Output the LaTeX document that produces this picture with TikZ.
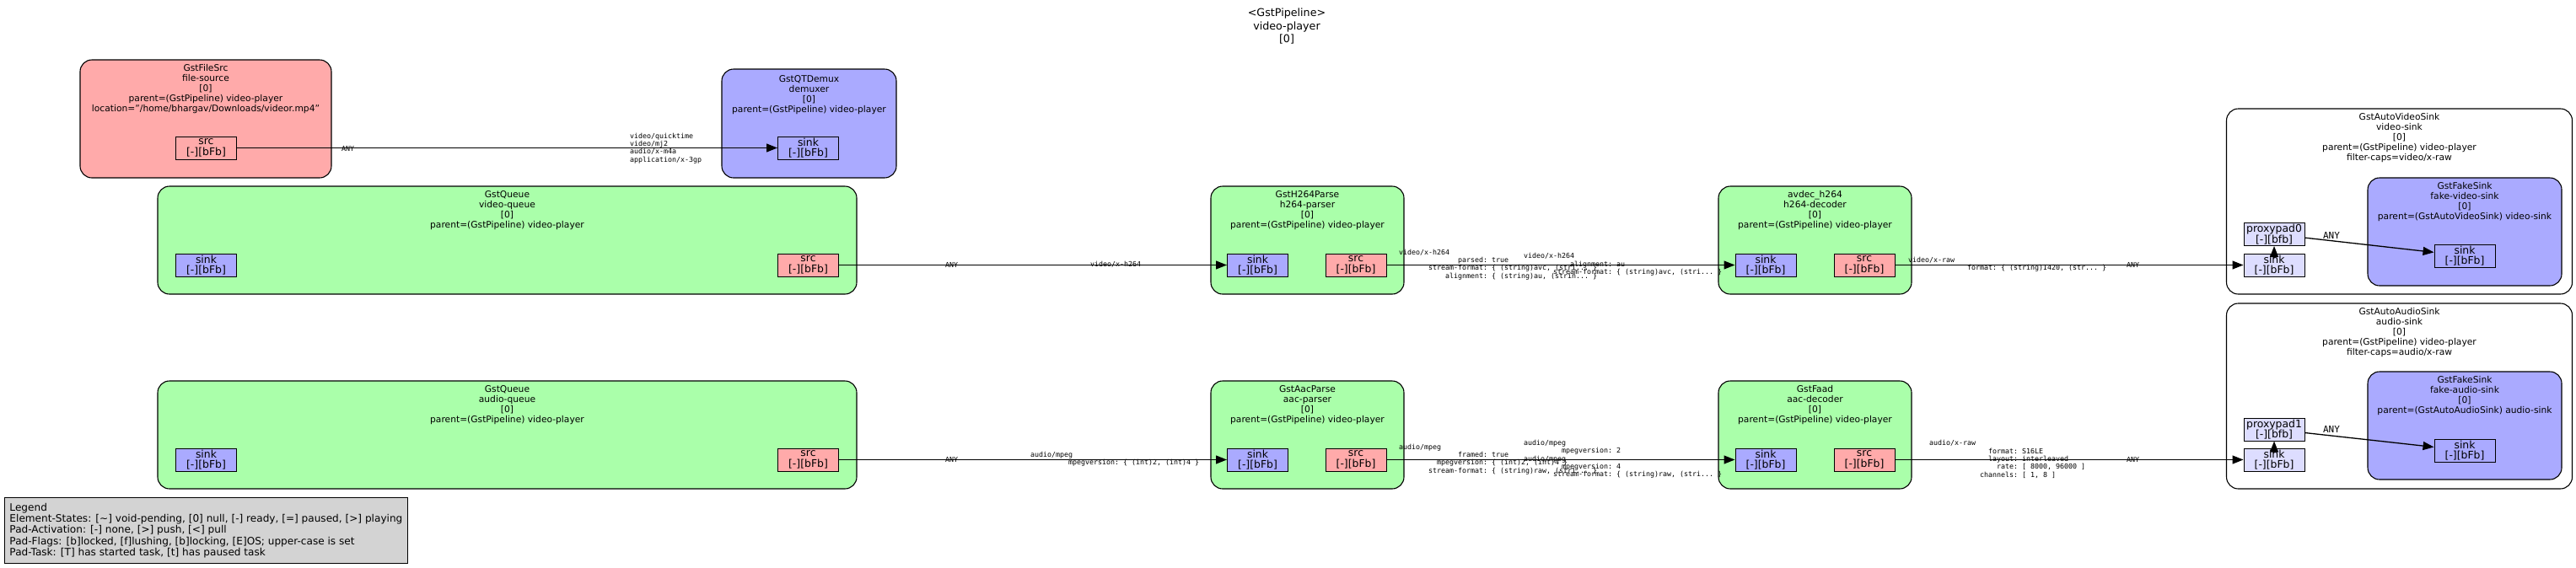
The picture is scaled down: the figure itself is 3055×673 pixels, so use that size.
\documentclass[tikz,border=0pt]{standalone}
\usepackage{fontspec}
\setmainfont{DejaVu Sans}
\setmonofont{DejaVu Sans Mono}
\usetikzlibrary{arrows.meta}
\definecolor{srcfill}{HTML}{FFAAAA}
\definecolor{sinkfill}{HTML}{AAAAFF}
\definecolor{filterfill}{HTML}{AAFFAA}
\definecolor{ghostfill}{HTML}{DDDDFF}
\definecolor{legendfill}{HTML}{D3D3D3}
\newlength\capw
\setlength\capw{4.997pt}
\newcommand\ind[1]{\hspace*{#1\capw}}
\newcommand\padlbl[2]{#1\\{}[-][#2]}

\begin{document}
\begin{tikzpicture}[x=1pt,y=-1pt,
			elem/.style={draw,rounded corners=14pt,line width=1.1pt,inner sep=0pt},
			eltext/.style={anchor=north,yshift=-5.8pt,align=center,inner sep=0pt,font=\fontsize{10.7}{12}\selectfont},
			padbox/.style={draw,line width=1pt,minimum width=72pt,minimum height=27pt,inner sep=0pt,align=center,font=\fontsize{12.4}{12.5}\selectfont},
			capl/.style={anchor=west,align=left,inner sep=0pt,font=\ttfamily\fontsize{8.3}{9.3}\selectfont},
			link/.style={line width=1.3pt,-{Triangle[length=13pt,width=10pt]}}]
			\tikzstyle{anylbl}=[inner sep=0pt,font=\ttfamily\fontsize{11}{13}\selectfont]
			\useasboundingbox (0,0) rectangle (3055,673);
			\node[align=center,inner sep=0pt,font=\fontsize{12.7}{15.5}\selectfont] (title) at (1526,31.5) {<GstPipeline>\\video-player\\{}[0]};

			\node[elem,fill=srcfill,minimum width=298pt,minimum height=140pt] (fsrc) at (244,141) {};
			\node[eltext] at (fsrc.north) {GstFileSrc\\file-source\\{}[0]\\parent=(GstPipeline) video-player\\location="/home/bhargav/Downloads/videor.mp4"};
			\node[padbox,fill=srcfill] (fsrc-src) at (244.5,175.5) {\padlbl{src}{bFb}};

			\node[elem,fill=sinkfill,minimum width=207pt,minimum height=129pt] (demux) at (959.5,146.5) {};
			\node[eltext,yshift=-2pt] at (demux.north) {GstQTDemux\\demuxer\\{}[0]\\parent=(GstPipeline) video-player};
			\node[padbox,fill=sinkfill] (demux-sink) at (958.5,175.5) {\padlbl{sink}{bFb}};

			\node[elem,fill=filterfill,minimum width=829pt,minimum height=128pt] (vq) at (601.5,285) {};
			\node[eltext] at (vq.north) {GstQueue\\video-queue\\{}[0]\\parent=(GstPipeline) video-player};
			\node[padbox,fill=sinkfill] (vq-sink) at (244.5,314.5) {\padlbl{sink}{bFb}};
			\node[padbox,fill=srcfill] (vq-src) at (958.5,314.5) {\padlbl{src}{bFb}};

			\node[elem,fill=filterfill,minimum width=829pt,minimum height=128pt] (aq) at (601.5,516) {};
			\node[eltext] at (aq.north) {GstQueue\\audio-queue\\{}[0]\\parent=(GstPipeline) video-player};
			\node[padbox,fill=sinkfill] (aq-sink) at (244.5,545.5) {\padlbl{sink}{bFb}};
			\node[padbox,fill=srcfill] (aq-src) at (958.5,545.5) {\padlbl{src}{bFb}};

			\node[elem,fill=filterfill,minimum width=229pt,minimum height=128pt] (hp) at (1550.5,285) {};
			\node[eltext] at (hp.north) {GstH264Parse\\h264-parser\\{}[0]\\parent=(GstPipeline) video-player};
			\node[padbox,fill=sinkfill] (hp-sink) at (1491.5,314.5) {\padlbl{sink}{bFb}};
			\node[padbox,fill=srcfill] (hp-src) at (1608,314.5) {\padlbl{src}{bFb}};

			\node[elem,fill=filterfill,minimum width=229pt,minimum height=128pt] (ap) at (1550.5,516) {};
			\node[eltext] at (ap.north) {GstAacParse\\aac-parser\\{}[0]\\parent=(GstPipeline) video-player};
			\node[padbox,fill=sinkfill] (ap-sink) at (1491.5,545.5) {\padlbl{sink}{bFb}};
			\node[padbox,fill=srcfill] (ap-src) at (1608,545.5) {\padlbl{src}{bFb}};

			\node[elem,fill=filterfill,minimum width=229pt,minimum height=128pt] (hd) at (2152.5,285) {};
			\node[eltext] at (hd.north) {avdec\_h264\\h264-decoder\\{}[0]\\parent=(GstPipeline) video-player};
			\node[padbox,fill=sinkfill] (hd-sink) at (2094,314.5) {\padlbl{sink}{bFb}};
			\node[padbox,fill=srcfill] (hd-src) at (2211,314.5) {\padlbl{src}{bFb}};

			\node[elem,fill=filterfill,minimum width=229pt,minimum height=128pt] (ad) at (2152.5,516) {};
			\node[eltext] at (ad.north) {GstFaad\\aac-decoder\\{}[0]\\parent=(GstPipeline) video-player};
			\node[padbox,fill=sinkfill] (ad-sink) at (2094,545.5) {\padlbl{sink}{bFb}};
			\node[padbox,fill=srcfill] (ad-src) at (2211,545.5) {\padlbl{src}{bFb}};

			\node[elem,fill=white,minimum width=410pt,minimum height=220pt] (vs) at (2845.5,239) {};
			\node[eltext] at (vs.north) {GstAutoVideoSink\\video-sink\\{}[0]\\parent=(GstPipeline) video-player\\filter-caps=video/x-raw};
			\node[elem,fill=sinkfill,minimum width=230pt,minimum height=128pt] (fvs) at (2923,275) {};
			\node[eltext] at (fvs.north) {GstFakeSink\\fake-video-sink\\{}[0]\\parent=(GstAutoVideoSink) video-sink};
			\node[padbox,fill=sinkfill] (fvs-sink) at (2923,303.5) {\padlbl{sink}{bFb}};
			\node[padbox,fill=ghostfill] (vs-proxy) at (2697,278) {\padlbl{proxypad0}{bfb}};
			\node[padbox,fill=ghostfill] (vs-sink) at (2697,314.5) {\padlbl{sink}{bFb}};

			\node[elem,fill=white,minimum width=410pt,minimum height=220pt] (as) at (2845.5,470) {};
			\node[eltext] at (as.north) {GstAutoAudioSink\\audio-sink\\{}[0]\\parent=(GstPipeline) video-player\\filter-caps=audio/x-raw};
			\node[elem,fill=sinkfill,minimum width=230pt,minimum height=128pt] (fas) at (2923,505) {};
			\node[eltext] at (fas.north) {GstFakeSink\\fake-audio-sink\\{}[0]\\parent=(GstAutoAudioSink) audio-sink};
			\node[padbox,fill=sinkfill] (fas-sink) at (2923,534.5) {\padlbl{sink}{bFb}};
			\node[padbox,fill=ghostfill] (as-proxy) at (2697,509.5) {\padlbl{proxypad1}{bfb}};
			\node[padbox,fill=ghostfill] (as-sink) at (2697,545.5) {\padlbl{sink}{bFb}};

			\draw[link] (fsrc-src) -- (demux-sink);
			\draw[link] (vq-src) -- (hp-sink);
			\draw[link] (hp-src) -- (hd-sink);
			\draw[link] (hd-src) -- (vs-sink);
			\draw[link] (aq-src) -- (ap-sink);
			\draw[link] (ap-src) -- (ad-sink);
			\draw[link] (ad-src) -- (as-sink);
			\draw[link] ([yshift=-4pt]vs-sink.north) -- (vs-proxy.south);
			\draw[link] (vs-proxy) -- (fvs-sink);
			\draw[link] ([yshift=-4pt]as-sink.north) -- (as-proxy.south);
			\draw[link] (as-proxy) -- (fas-sink);

			\node[anylbl] (vs-any) at (2765,279) {ANY};
			\node[anylbl] (as-any) at (2765,509) {ANY};

			\node[capl] (fd-tail) at (405,176) {ANY};
			\node[capl] (fd-head) at (747,176) {video/quicktime\\video/mj2\\audio/x-m4a\\application/x-3gp};
			\node[capl] (vq-tail) at (1121,314) {ANY};
			\node[capl] (vq-head) at (1293,314) {video/x-h264};
			\node[capl] (hp-tail) at (1659,314) {video/x-h264\\\ind{14}parsed: true\\\ind{7}stream-format: \{ (string)avc, (stri... \}\\\ind{11}alignment: \{ (string)au, (strin... \}};
			\node[capl] (hp-head) at (1807,314) {video/x-h264\\\ind{11}alignment: au\\\ind{7}stream-format: \{ (string)avc, (stri... \}};
			\node[capl] (hd-tail) at (2263,314) {video/x-raw\\\ind{14}format: \{ (string)I420, (str... \}};
			\node[capl] (hd-head) at (2522,314) {ANY};
			\node[capl] (aq-tail) at (1121,545) {ANY};
			\node[capl] (aq-head) at (1222,545) {audio/mpeg\\\ind{9}mpegversion: \{ (int)2, (int)4 \}};
			\node[capl] (ap-tail) at (1659,545) {audio/mpeg\\\ind{14}framed: true\\\ind{9}mpegversion: \{ (int)2, (int)4 \}\\\ind{7}stream-format: \{ (string)raw, (stri... \}};
			\node[capl] (ap-head) at (1807,545) {audio/mpeg\\\ind{9}mpegversion: 2\\audio/mpeg\\\ind{9}mpegversion: 4\\\ind{7}stream-format: \{ (string)raw, (stri... \}};
			\node[capl] (ad-tail) at (2288,545) {audio/x-raw\\\ind{14}format: S16LE\\\ind{14}layout: interleaved\\\ind{16}rate: [ 8000, 96000 ]\\\ind{12}channels: [ 1, 8 ]};
			\node[capl] (ad-head) at (2522,545) {ANY};

			\node[draw,fill=legendfill,line width=1pt,anchor=north west,minimum height=78pt,inner sep=0pt,inner xsep=6pt,align=left,font=\fontsize{12.1}{13.3}\selectfont] (legend) at (5,590) {Legend\\Element-States: [\textasciitilde] void-pending, [0] null, [-] ready, [=] paused, [>] playing\\Pad-Activation: [-] none, [>] push, [<] pull\\Pad-Flags: [b]locked, [f]lushing, [b]locking, [E]OS; upper-case is set\\Pad-Task: [T] has started task, [t] has paused task};
		\end{tikzpicture}
\end{document}
